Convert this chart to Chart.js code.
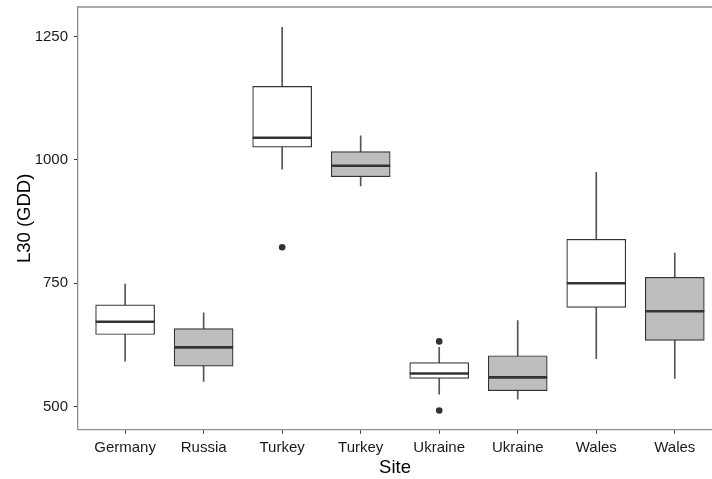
<!DOCTYPE html>
<html>
<head>
<meta charset="utf-8">
<script src="https://cdn.jsdelivr.net/npm/chart.js@4/dist/chart.umd.min.js"></script>
<style>
  html, body { margin: 0; padding: 0; background: #fff; overflow: hidden; }
  #wrap { width: 712px; height: 479px; }
</style>
</head>
<body>
<div id="wrap"><canvas id="myChart" width="712" height="479"></canvas></div>
<script>
// box plot values
let sites = ['Germany', 'Russia', 'Turkey', 'Turkey', 'Ukraine', 'Ukraine', 'Wales', 'Wales'];
let whiskerLow = [592, 551, 981, 947, 525, 515, 597, 557];
let q1 = [646, 582, 1026, 966, 557, 532, 701, 634];
let median = [672, 620, 1045, 988, 567, 559, 750, 693];
let q3 = [706, 658, 1149, 1017, 589, 603, 839, 762];
let whiskerHigh = [748, 690, 1269, 1049, 620, 674, 975, 811];
let outlierSite = [2, 4, 4];
let outlierValue = [823, 632, 492];
let yTicks = [500, 750, 1000, 1250];

let fontName = "'Liberation Sans', Arial, sans-serif";

let whiskers = [];
let boxes = [];
let medians = [];
for (let i = 0; i < sites.length; i++) {
    whiskers.push({x: i + 1, y: [whiskerLow[i], whiskerHigh[i]]});
    boxes.push({x: i + 1, y: [q1[i], q3[i]]});
    medians.push({x: i + 1, y: median[i]});
}
let outliers = [];
for (let i = 0; i < outlierSite.length; i++) {
    outliers.push({x: outlierSite[i] + 1, y: outlierValue[i]});
}

// top edge of the panel
let topBorder = {
    id: 'topBorder',
    afterDraw(chart) {
        let ctx = chart.ctx;
        let a = chart.chartArea;
        ctx.save();
        ctx.strokeStyle = '#8f8f8f';
        ctx.lineWidth = 1.3;
        ctx.beginPath();
        ctx.moveTo(a.left, a.top);
        ctx.lineTo(chart.width, a.top);
        ctx.stroke();
        ctx.restore();
    }
};

let data = {
    datasets: [
        {
            type: 'bar',
            data: whiskers,
            backgroundColor: '#555555',
            barThickness: 1,
            grouped: false,
            order: 3
        },
        {
            type: 'bar',
            data: boxes,
            backgroundColor: ctx => ctx.dataIndex % 2 ? '#bebebe' : '#ffffff',
            borderColor: '#333333',
            borderWidth: 1.2,
            borderSkipped: false,
            barThickness: 59,
            grouped: false,
            order: 2
        },
        {
            type: 'scatter',
            data: medians,
            pointStyle: 'line',
            radius: 29.5,
            borderColor: '#333333',
            borderWidth: 2.6,
            order: 1
        },
        {
            type: 'scatter',
            data: outliers,
            pointStyle: 'circle',
            radius: 3.3,
            backgroundColor: '#333333',
            borderColor: '#333333',
            borderWidth: 0,
            order: 0
        }
    ]
};

let config = {
    type: 'bar',
    data: data,
    options: {
        responsive: false,
        animation: false,
        layout: {autoPadding: false, padding: {top: 7, right: 0, left: 0, bottom: 0}},
        plugins: {legend: {display: false}, tooltip: {enabled: false}},
        scales: {
            x: {
                type: 'linear',
                offset: false,
                min: 0.4,
                max: 8.474,
                afterBuildTicks: s => { s.ticks = sites.map((c, i) => ({value: i + 1})); },
                afterFit: s => { s.height = 49.3; s.paddingLeft = 0; s.paddingRight = 0; },
                ticks: {
                    callback: v => sites[v - 1],
                    color: '#1a1a1a',
                    font: {family: fontName, size: 15},
                    padding: 5,
                    maxRotation: 0,
                    autoSkip: false
                },
                grid: {offset: false, drawOnChartArea: false, tickLength: 4, tickColor: '#333333', tickWidth: 1},
                border: {color: '#8f8f8f', width: 1.3},
                title: {
                    display: true,
                    text: 'Site',
                    color: '#000000',
                    font: {family: fontName, size: 18.5},
                    padding: {top: 0, bottom: 0}
                }
            },
            y: {
                min: 453,
                max: 1310,
                afterBuildTicks: s => { s.ticks = yTicks.map(v => ({value: v})); },
                afterFit: s => { s.width = 78; s.paddingTop = 0; s.paddingBottom = 0; },
                ticks: {
                    callback: v => String(v),
                    color: '#1a1a1a',
                    font: {family: fontName, size: 15},
                    padding: 6
                },
                grid: {drawOnChartArea: false, tickLength: 4, tickColor: '#333333', tickWidth: 1},
                border: {color: '#8f8f8f', width: 1.3},
                title: {
                    display: true,
                    text: 'L30 (GDD)',
                    color: '#000000',
                    font: {family: fontName, size: 18.5},
                    padding: {top: 14, bottom: 0}
                }
            }
        }
    },
    plugins: [topBorder]
};

let myChart = new Chart(document.getElementById('myChart'), config);
</script>
</body>
</html>
